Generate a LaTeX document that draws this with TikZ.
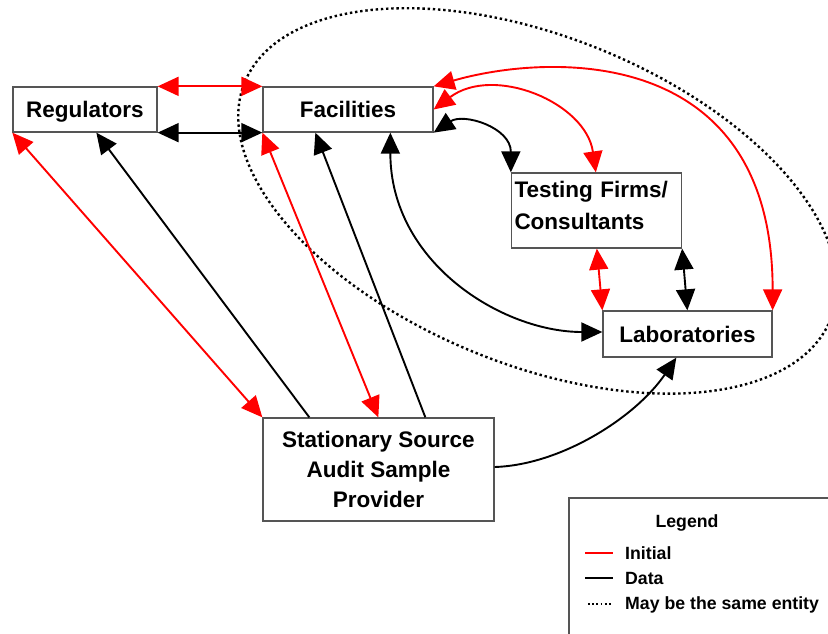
\documentclass[tikz,border=0pt]{standalone}
\usepackage{fontspec}
\setmainfont{Liberation Sans}
\usepackage{xcolor}
\definecolor{InitRed}{HTML}{FF0000}
\definecolor{BoxGray}{HTML}{555555}
\usetikzlibrary{arrows.meta,calc}

\tikzset{
	box/.style={draw=BoxGray, line width=1.3pt, fill=white, inner sep=3pt,
		font=\fontsize{22.5}{30}\selectfont\bfseries},
	onebox/.style={box, text height=16.1pt, text depth=0pt},
	onearrow/.style={-{Triangle[length=21pt,width=19pt]}},
	twoarrow/.style={{Triangle[length=21pt,width=19pt]}-{Triangle[length=21pt,width=19pt]}},
	initline/.style={InitRed, line width=1.9pt},
	dataline/.style={black, line width=1.9pt},
	sameline/.style={black, line width=2.4pt, dash pattern=on 2.4pt off 2.8pt},
	legtext/.style={inner sep=0pt, anchor=base west, font=\fontsize{17.7}{20}\selectfont\bfseries}
}

\begin{document}
\begin{tikzpicture}[x=1pt,y=-1pt]
		\clip (0,0) rectangle (828,634);
		
		% may be the same entity
		\draw[sameline, rotate around={-22:(538,200)}] (538,201) ellipse [x radius=316, y radius=164];
		
		\node[onebox, minimum width=144pt, minimum height=45pt] (reg) at (85,109.5) {Regulators};
		\node[onebox, minimum width=170pt, minimum height=45pt] (fac) at (348,109.5) {Facilities};
		\node[box, font=\fontsize{22.5}{32}\selectfont\bfseries, minimum width=170pt, minimum height=75pt,
			text width=164pt, text depth=42pt, align=left] (tfc) at (596.5,210.5) {Testing Firms/\\Consultants};
		\node[onebox, minimum width=169pt, minimum height=46pt] (lab) at (687.5,334) {Laboratories};
		\node[box, minimum width=231pt, minimum height=103pt, align=center] (ssp) at (378.5,469.5) {Stationary Source\\Audit Sample\\Provider};
		
		
		\draw[initline,twoarrow] (reg.north east) -- (fac.north west);
		\draw[dataline,twoarrow] (reg.south east) -- (fac.south west);
		\draw[initline,twoarrow] (reg.south west) -- (ssp.north west);
		\draw[dataline,onearrow] ([xshift=47pt]ssp.north west) -- ([xshift=84pt]reg.south west);
		\draw[initline,twoarrow] (fac.south west) -- ([xshift=116pt]ssp.north west);
		\draw[dataline,onearrow] ([xshift=163pt]ssp.north west) -- ([xshift=53pt]fac.south west);
		
		
		\draw[dataline,twoarrow] ([xshift=128pt]fac.south west) .. controls +(0,130) and +(-100,0) .. ([yshift=2pt]lab.west);
		\draw[dataline,twoarrow] (fac.south east) .. controls +(30,-20) and +(0,-45) .. (tfc.north west);
		\draw[initline,twoarrow] (fac.east) .. controls +(60,-45) and +(-10,-70) .. ([xshift=85pt]tfc.north west);
		\draw[initline,twoarrow] (fac.north east) .. controls +(110,-32) and +(0,-270) .. (lab.north east);
		
		
		\draw[initline,twoarrow] ([xshift=86pt]tfc.south west) -- (lab.north west);
		\draw[dataline,twoarrow] (tfc.south east) -- ([xshift=85pt]lab.north west);
		\draw[dataline,onearrow] ([yshift=2.5pt]ssp.east) .. controls +(66,-2) and +(-41,60) .. ([xshift=74pt]lab.south west);
		
		
		% legend
		\draw[draw=BoxGray, line width=1.3pt] (569,498) rectangle (850,660);
		\node[legtext, anchor=base] (lgd) at (687,527.3) {Legend};
		\draw[initline, line width=2.4pt] (585,553) -- (613,553);
		\node[legtext] (linit) at (625,559.3) {Initial};
		\draw[dataline, line width=2.4pt] (585,578) -- (613,578);
		\node[legtext] (ldata) at (625,584.3) {Data};
		\draw[sameline, line width=1.8pt, dash pattern=on 1.8pt off 2.4pt] (588,604) -- (613,604);
		\node[legtext] (lsame) at (625,609.3) {May be the same entity};
		
	\end{tikzpicture}
\end{document}
